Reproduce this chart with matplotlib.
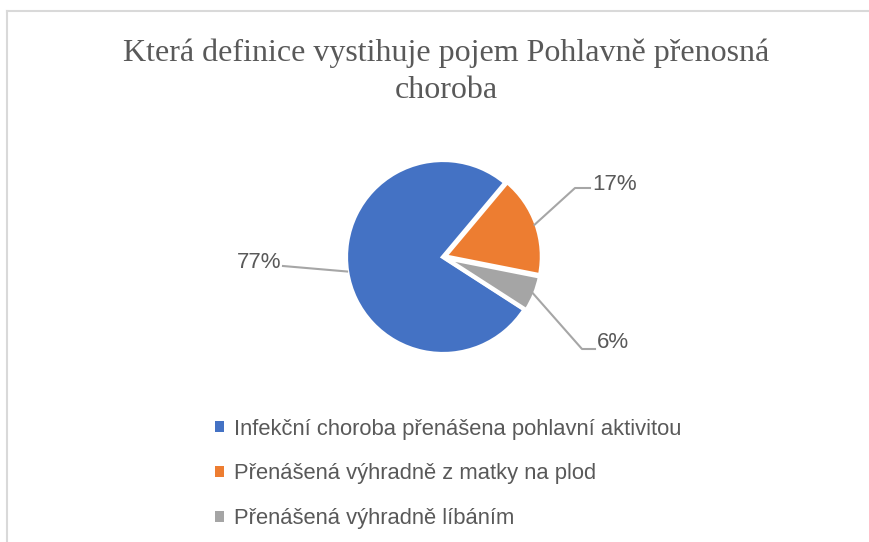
import numpy as np
import matplotlib
matplotlib.use("Agg")
import matplotlib.pyplot as plt
from matplotlib.patches import Patch
from matplotlib.lines import Line2D

# data
categories = ["Infekční choroba přenášena pohlavní aktivitou",
              "Přenášená výhradně z matky na plod",
              "Přenášená výhradně líbáním"]
values = [77, 17, 6]
colors = ["#4472c4", "#ed7d31", "#a5a5a5"]
title = "Která definice vystihuje pojem Pohlavně přenosná\nchoroba"

W, H = 870, 542
fig = plt.figure(figsize=(W / 100, H / 100), dpi=100)
fig.patch.set_facecolor("white")

# faint chart border (only top and left visible)
border = "#d9d9d9"
fig.add_artist(Line2D([7 / W, 7 / W], [0, 1 - 11 / H], color=border, lw=1.5))
fig.add_artist(Line2D([7 / W, 1], [1 - 11 / H, 1 - 11 / H], color=border, lw=1.5))

# title
fig.text(446 / W, 1 - 72 / H, title, ha="center", va="center",
         family="Liberation Serif", fontsize=23, color="#595959", linespacing=1.37)

# pie, placed by pixel centre and radius
cx, cy, r = 443, 257, 97
ax = fig.add_axes([(cx - r) / W, 1 - (cy + r) / H, 2 * r / W, 2 * r / H])
start = 50 + 360 * values[0] / 100
wedges, _ = ax.pie(values, colors=colors, startangle=start, counterclock=False,
                   explode=[0, 0.02, 0.02],
                   wedgeprops=dict(edgecolor="white", linewidth=3))
ax.set_xlim(-1, 1)
ax.set_ylim(-1, 1)
ax.set_aspect("equal")
ax.axis("off")

# data labels with leader lines (anchor points in pixels)
lead_col = "#a6a6a6"
txt_col = "#595959"
label_pts = [  # (elbow px, end px, text px, ha)
    (None, (283, 266), (281, 262), "right"),
    ((575, 188), (590, 188), (592, 184), "left"),
    ((582, 349), (595, 349), (597, 342), "left"),
]
def to_data(p):
    return ((p[0] - cx) / r, (cy - p[1]) / r)

for w, v, (elbow, end, tpos, ha) in zip(wedges, values, label_pts):
    mid = np.deg2rad((w.theta1 + w.theta2) / 2)
    xs = [np.cos(mid)]
    ys = [np.sin(mid)]
    for p in (elbow, end):
        if p is not None:
            dx, dy = to_data(p)
            xs.append(dx)
            ys.append(dy)
    ax.plot(xs, ys, color=lead_col, lw=1.5, clip_on=False)
    tx, ty = to_data(tpos)
    ax.text(tx, ty, f"{v}%", ha=ha, va="center", fontsize=16,
            color=txt_col, family="Liberation Sans", clip_on=False)

# legend
handles = [Patch(facecolor=c, edgecolor="none") for c in colors]
fig.legend(handles, categories, loc="upper left",
           bbox_to_anchor=(195 / W, 1 - 399 / H), frameon=False,
           handlelength=0.4, handleheight=0.4, handletextpad=0.5,
           labelspacing=1.08, prop=dict(family="Liberation Sans", size=15.8),
           labelcolor=txt_col)

fig.savefig("out.png", dpi=100)
